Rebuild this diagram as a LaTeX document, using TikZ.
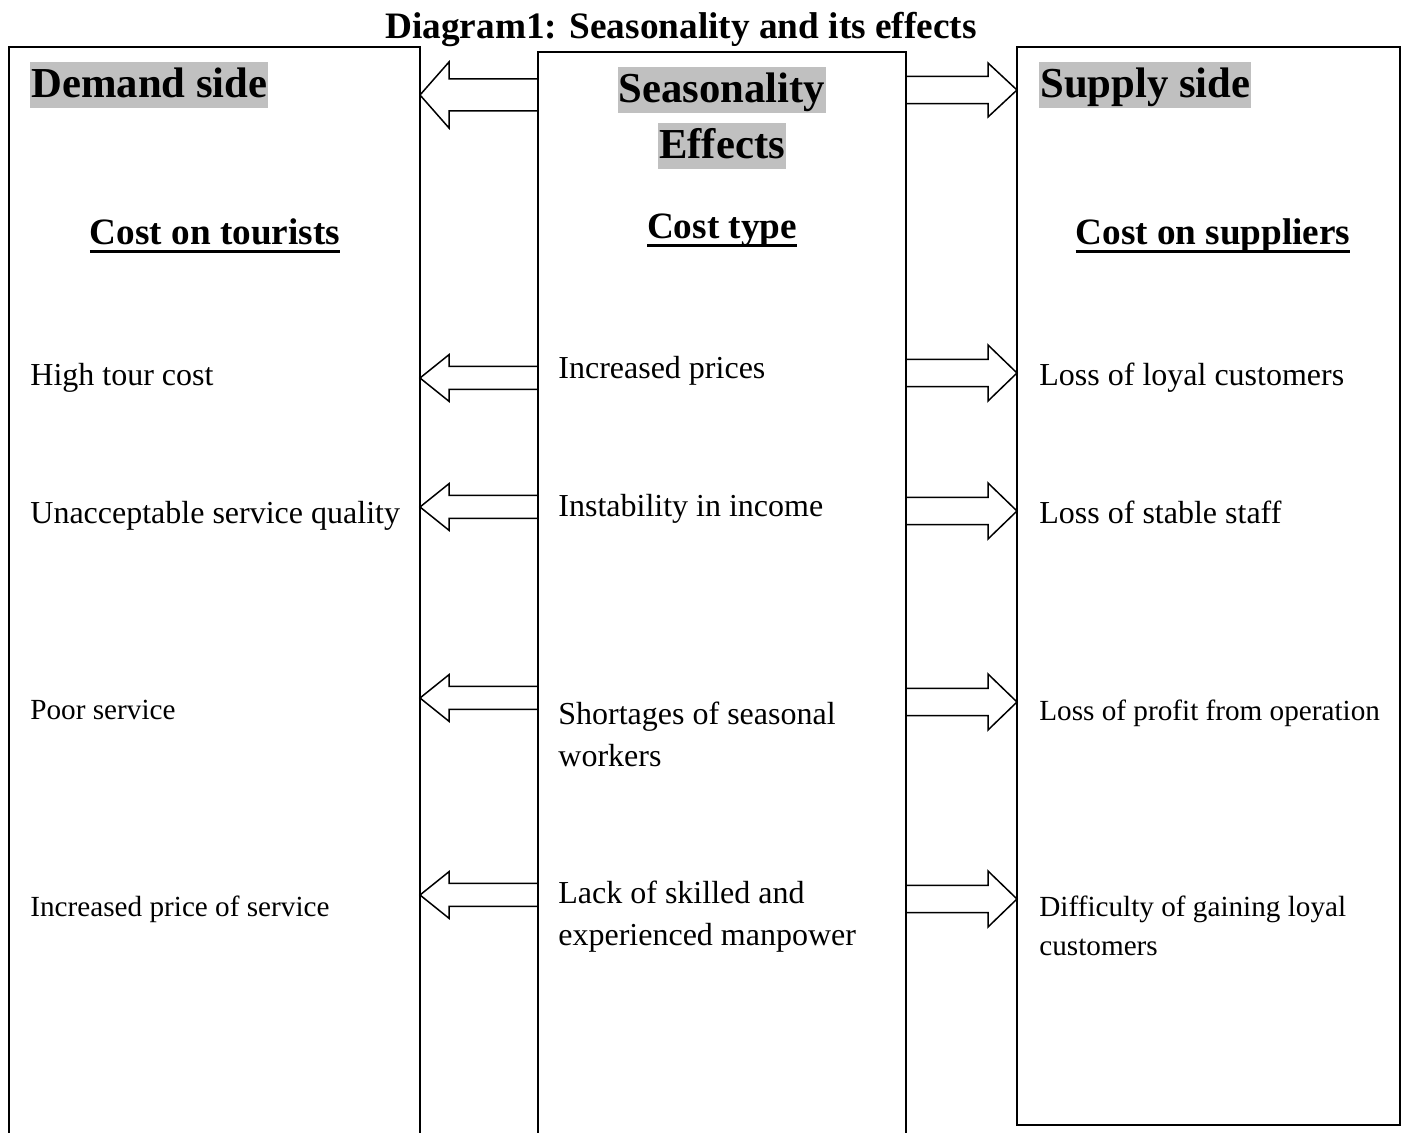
\documentclass[tikz,border=0pt]{standalone}
\usepackage{fontspec}
\setmainfont{Liberation Serif}
\usepackage{xcolor}
\usetikzlibrary{calc}

\definecolor{hlgray}{RGB}{192,192,192}

% thick underline for the column headings
\newcommand{\boldul}[1]{\setbox0=\hbox{#1}\rlap{\rule[-4pt]{\wd0}{1.5pt}}\box0}

% hollow block arrow from #1 (tail) to #2 (tip); #3 half head width, #4 half shaft width
\newcommand{\hollowarrow}[4]{%
  \path ($(#2)!14.5pt!(#1)$) coordinate (hb);
  \draw[blockarrow] ($(#1)+(0,#4)$) -- ($(hb)+(0,#4)$) -- ($(hb)+(0,#3)$) -- (#2)
    -- ($(hb)+(0,-#3)$) -- ($(hb)+(0,-#4)$) -- ($(#1)+(0,-#4)$);}

\tikzset{
  panel/.style={black, line width=1pt},
  blockarrow/.style={black, line width=0.75pt, line join=miter},
  titletext/.style={font=\fontsize{18.65pt}{22pt}\selectfont\bfseries, anchor=base, inner sep=0pt},
  sidehead/.style={font=\fontsize{21.35pt}{25pt}\selectfont\bfseries, fill=hlgray, inner xsep=0.5pt, inner ysep=0pt, text height=18pt, text depth=5pt},
  costhead/.style={font=\fontsize{18.6pt}{22pt}\selectfont\bfseries, anchor=base, inner sep=0pt},
  item/.style={font=\fontsize{16pt}{21pt}\selectfont, anchor=base west, inner sep=0pt, align=left},
  smallitem/.style={font=\fontsize{14.6pt}{19.5pt}\selectfont, anchor=base west, inner sep=0pt, align=left},
}

\begin{document}
\begin{tikzpicture}[x=0.5pt, y=-0.5pt]

\useasboundingbox (0,0) rectangle (1410,1133);

\node (title) at (681,39) [titletext] {Diagram1: Seasonality and its effects};

% the three columns
\draw[panel] (9,47) rectangle (420,1150);
\draw[panel] (538,52) rectangle (906,1150);
\draw[panel] (1017,47) rectangle (1400,1125);

% headings
\node (demandhead) at (30,98) [sidehead, anchor=base west] {Demand side};
\node (seasonhead) at (722,103) [sidehead, anchor=base] {Seasonality};
\node (effecthead) at (722,159) [sidehead, anchor=base] {Effects};
\node (supplyhead) at (1039,98) [sidehead, anchor=base west] {Supply side};

\node (tourists) at (215,245) [costhead] {\boldul{Cost on tourists}};
\node (costtype) at (722,239) [costhead] {\boldul{Cost type}};
\node (suppliers) at (1213,245) [costhead] {\boldul{Cost on suppliers}};

% demand side
\node (dem1) at (30,386) [item] {High tour cost};
\node (dem2) at (30,524) [item] {Unacceptable service quality};
\node (dem3) at (30,720) [smallitem] {Poor service};
\node (dem4) at (30,917) [smallitem] {Increased price of service};

% cost types (two-line nodes sit on their last line)
\node (eff1) at (558,379) [item] {Increased prices};
\node (eff2) at (558,517) [item] {Instability in income};
\node (eff3) at (558,767) [item] {Shortages of seasonal\\workers};
\node (eff4) at (558,946) [item] {Lack of skilled and\\experienced manpower};

% supply side
\node (sup1) at (1039,386) [item] {Loss of loyal customers};
\node (sup2) at (1039,524) [item] {Loss of stable staff};
\node (sup3) at (1039,721) [smallitem] {Loss of profit from operation};
\node (sup4) at (1039,956) [smallitem] {Difficulty of gaining loyal\\customers};

% block arrows, top pair
\coordinate (eW0) at (538,95);
\coordinate (dE0) at (420,95);
\coordinate (eE0) at (906,90);
\coordinate (sW0) at (1017,90);
\hollowarrow{eW0}{dE0}{16.5pt}{8pt}
\hollowarrow{eE0}{sW0}{13.5pt}{6.85pt}

% block arrows, one pair per row
\foreach \i/\yl/\yr in {1/378/373, 2/507/511, 3/698/702, 4/895/899} {
  \coordinate (eW\i) at (538,\yl);
  \coordinate (dE\i) at (420,\yl);
  \coordinate (eE\i) at (906,\yr);
  \coordinate (sW\i) at (1017,\yr);
  \hollowarrow{eW\i}{dE\i}{11.65pt}{5.75pt}
  \hollowarrow{eE\i}{sW\i}{14pt}{6.85pt}
}

\end{tikzpicture}
\end{document}
